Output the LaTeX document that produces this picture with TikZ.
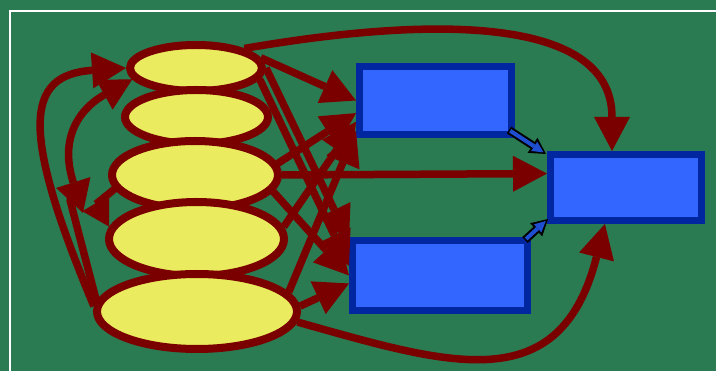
\documentclass[tikz,border=0pt]{standalone}
\usetikzlibrary{shapes.geometric,arrows.meta,calc}

\definecolor{bggreen}{HTML}{2A7B52}
\definecolor{linkred}{HTML}{7A0000}
\definecolor{ovalyellow}{HTML}{EBEB5F}
\definecolor{boxblue}{HTML}{3366FF}
\definecolor{boxborder}{HTML}{0026A0}
\definecolor{smallblue}{HTML}{1F4FD0}

\tikzset{
  oval/.style={ellipse, draw=linkred, line width=8pt, fill=ovalyellow, inner sep=0pt},
  box/.style={rectangle, draw=boxborder, line width=7pt, fill=boxblue, inner sep=0pt},
  link/.style={draw=linkred, line width=7.5pt, -{Triangle[length=34pt,width=36pt,line width=0pt]}},
  twolink/.style={draw=linkred, line width=7.5pt,
     {Triangle[length=32pt,width=36pt,line width=0pt]}-{Triangle[length=32pt,width=34pt,line width=0pt]}},
  plainlink/.style={draw=linkred, line width=7.5pt, line cap=round},
  thinout/.style={draw=black, line width=8pt, -{Triangle[length=16pt,width=18pt,line width=0pt]}},
  thinin/.style={draw=smallblue, line width=4pt, shorten >=3pt, shorten <=1.5pt,
                 -{Triangle[length=11pt,width=11pt,line width=0pt]}},
}

\begin{document}
\begin{tikzpicture}[x=1pt, y=-1pt]
  % canvas and frame
  \fill[bggreen] (0,0) rectangle (716,371);
  \useasboundingbox (0,0) rectangle (716,371);
  \draw[white, line width=2pt] (740,11.5) -- (10,11.5) -- (10,400);

  % stacked ovals, each overlapping the one above
  \node[oval, minimum width=132pt, minimum height=46pt] (e1) at (196,68) {};
  \node[oval, minimum width=143pt, minimum height=54pt] (e2) at (196.5,117) {};
  \node[oval, minimum width=166pt, minimum height=68pt] (e3) at (195,175) {};
  \node[oval, minimum width=175pt, minimum height=74pt] (e4) at (196.5,239) {};
  \node[oval, minimum width=200pt, minimum height=75pt] (e5) at (197,311.5) {};

  % boxes
  \node[box, minimum width=152pt, minimum height=68pt] (b1) at (435.5,100.5) {};
  \node[box, minimum width=151pt, minimum height=66pt] (b2) at (626,187.5) {};
  \node[box, minimum width=175pt, minimum height=70pt] (b3) at (440,275.5) {};

  % free ends of the left-hand links
  \coordinate (lowtip) at (83,213);
  \coordinate (stubend) at (70,200);
  \coordinate (kink) at (96,204);

  % left-hand loops
  \draw[link] (e5.177) .. controls (20,130) and (25,75) .. (e1.west);
  \draw[plainlink] (e5.174) -- (stubend);
  \draw[twolink] (lowtip) .. controls (55,125) and (95,100) .. (e1.190);
  \draw[draw=linkred, line width=7.5pt, line join=round,
        -{Triangle[length=27pt,width=31pt,line width=0pt]}] (e3.190) -- (kink) -- (e4.172);

  % links from the ovals into the top box
  \draw[link] (e1.9) -- (b1.west);
  \draw[link] (e3.8) -- (b1.189);
  \draw[link] (e4.8) -- (b1.195);
  \draw[link] (e5.12) -- (b1.201);

  % links from the ovals into the bottom box
  \draw[link] (e1.east) -- (b3.159);
  \draw[link] (e1.-10) -- (b3.174);
  \draw[link] (e3.-12) -- (b3.180);
  \draw[link] (e5.3) -- (b3.185);

  % links into the right box
  \draw[link] (e3.east) -- (b2.170);
  \draw[link] (e1.22) .. controls (420,18) and (612,12) .. (b2.111);
  \draw[link] (e5.-6) .. controls (450,365) and (560,400) .. (b2.240);

  % small outlined arrows between the boxes
  \draw[thinout] ($(b1.south east)+(-6,-8)$) -- ($(b2.north west)+(-1,3)$);
  \draw[thinin]  ($(b1.south east)+(-6,-8)$) -- ($(b2.north west)+(-1,3)$);
  \draw[thinout] ($(b3.north east)+(-6,3)$) -- ($(b2.south west)+(1,-5)$);
  \draw[thinin]  ($(b3.north east)+(-6,3)$) -- ($(b2.south west)+(1,-5)$);
\end{tikzpicture}
\end{document}
